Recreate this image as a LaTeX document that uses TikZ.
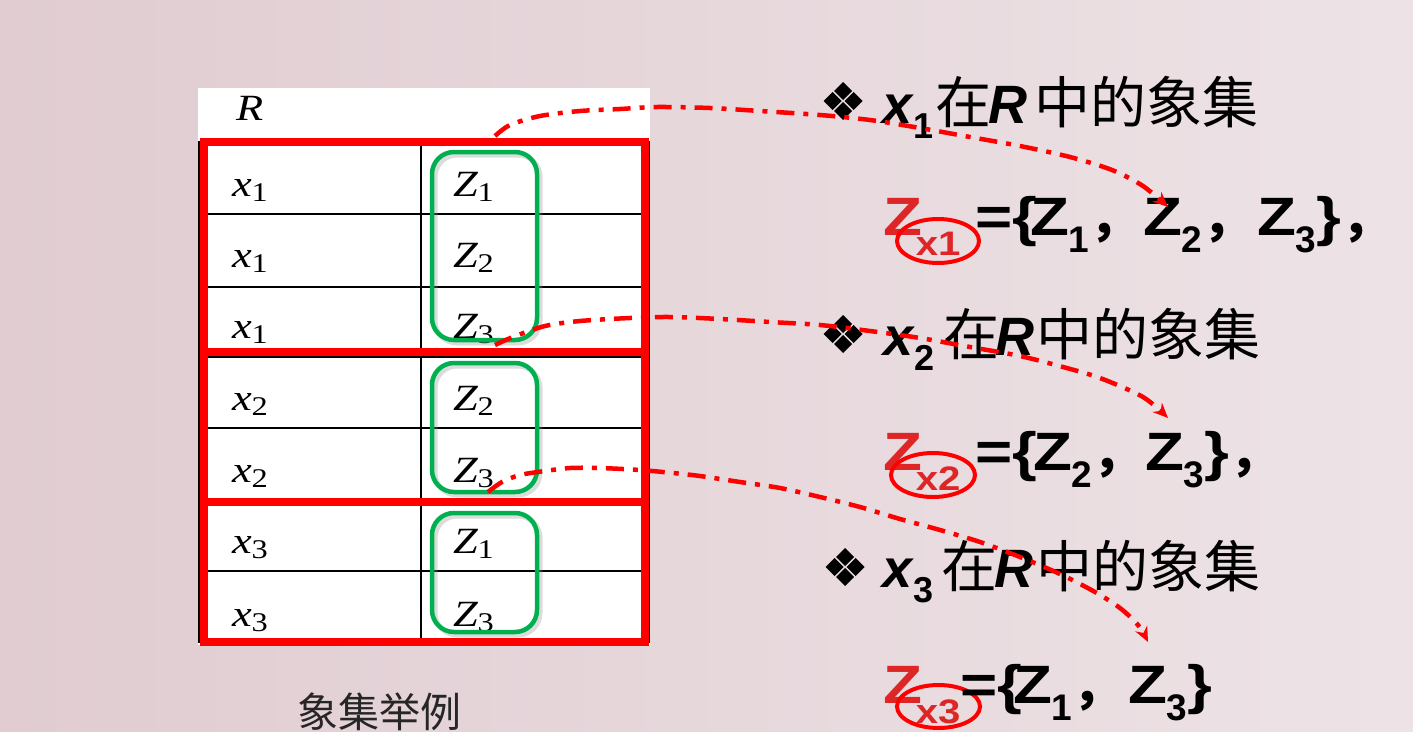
\documentclass[tikz,border=0pt]{standalone}
\usepackage{fontspec}
\setmainfont{Liberation Serif}
\newfontfamily\tabf[FakeStretch=1.2]{Liberation Serif}
\newfontfamily\bsf[FakeStretch=1.18]{Liberation Sans}
\newfontfamily\hsf{Liberation Sans}
\newfontfamily\cjk{Noto Sans CJK SC}
\usetikzlibrary{arrows.meta}
\definecolor{bgL}{RGB}{224,204,209}
\definecolor{bgR}{RGB}{237,227,230}
\definecolor{tred}{RGB}{255,0,0}
\definecolor{zred}{RGB}{222,38,38}
\definecolor{gbox}{RGB}{0,176,80}
\newcommand\BigF{\fontsize{54}{60}\selectfont}
\newcommand\SubF{\fontsize{37}{40}\selectfont}
\newcommand\RSubF{\fontsize{34}{40}\selectfont}
\newcommand\CjF{\fontsize{56}{60}\selectfont}
\newcommand\TabF{\fontsize{37}{40}\selectfont}
\newcommand\TabSubF{\fontsize{27}{30}\selectfont}
\newcommand\xs[1]{{\itshape x}\raisebox{-5pt}{\TabSubF #1}}
\newcommand\zs[1]{{\itshape Z}\raisebox{-5pt}{\TabSubF #1}}
\newcommand\bz[1]{Z\raisebox{-17pt}{\hsf\bfseries\SubF #1}}
\newcommand\cm{{\cjk\fontsize{50}{54}\selectfont ，}}
\newcommand\rz[1]{Z\hspace{-6pt}\raisebox{-20pt}{\RSubF #1}}
% header line: #1 subscript, #2 gap before 在, #3 gap before R, #4 gap before 中
\newcommand\hdr[4]{{\hsf\bfseries\itshape\BigF x}\hspace{1.5pt}\raisebox{-15pt}{\hsf\bfseries\fontsize{36}{40}\selectfont #1}\hspace{#2}{\cjk\CjF 在}\hspace{#3}{\hsf\bfseries\itshape\BigF R}\hspace{#4}{\cjk\CjF 中的象集}}
\begin{document}
\begin{tikzpicture}[x=1pt,y=-1pt,
  txt/.style={inner sep=0pt, outer sep=0pt, anchor=base west},
  cell/.style={txt, font=\tabf\TabF},
  redline/.style={draw=tred, line width=8pt},
  gridline/.style={draw=black, line width=1.6pt},
  zgroup/.style={draw=gbox, line width=4.5pt, rounded corners=22pt},
  zshadow/.style={draw=black!45, line width=5pt, rounded corners=22pt, opacity=0.3},
  link/.style={draw=tred, line width=4.5pt, dash pattern=on 18pt off 9pt on 5pt off 9pt, -{Stealth[length=15pt,width=13pt]}},
  ring/.style={draw=tred, line width=4pt},
  big/.style={txt, font=\bsf\bfseries\BigF},
  bul/.pic={\foreach \dx/\dy in {0/-10, -10.5/0, 10.5/0, 0/10}{
      \fill (\dx,\dy) +(-9,0) -- +(0,-9) -- +(9,0) -- +(0,9) -- cycle;}},
]
% background
\shade[left color=bgL, right color=bgR] (0,0) rectangle (1413,731);
\useasboundingbox (0,0) rectangle (1413,731);

% table
\fill[white] (198,88) rectangle (650,645);
\draw[gridline] (199,142) rectangle (649,642);
\foreach \yy in {214,287,357,428,502,571} \draw[gridline] (199,\yy) -- (649,\yy);
\draw[gridline] (421,142) -- (421,642);

\node[cell] (R) at (236,120) {\itshape R};
\node[cell] (a1) at (232,196) {\xs1};
\node[cell] (a2) at (232,267) {\xs1};
\node[cell] (a3) at (232,338) {\xs1};
\node[cell] (a4) at (232,410) {\xs2};
\node[cell] (a5) at (232,482) {\xs2};
\node[cell] (a6) at (232,553) {\xs3};
\node[cell] (a7) at (232,626) {\xs3};
\node[cell] (b1) at (453,196) {\zs1};
\node[cell] (b2) at (453,267) {\zs2};
\node[cell] (b3) at (453,338) {\zs3};
\node[cell] (b4) at (453,410) {\zs2};
\node[cell] (b5) at (453,482) {\zs3};
\node[cell] (b6) at (453,553) {\zs1};
\node[cell] (b7) at (453,626) {\zs3};

% green groups
\draw[zshadow] (435,155) rectangle (540,343);
\draw[zshadow] (435,366) rectangle (540,495);
\draw[zshadow] (435,516) rectangle (540,635);
\draw[zgroup] (432,152) rectangle (537,340);
\draw[zgroup] (432,363) rectangle (537,492);
\draw[zgroup] (432,513) rectangle (537,632);

% red groups
\draw[redline] (203.5,142) rectangle (644.5,642);
\draw[redline] (203.5,352) -- (644.5,352);
\draw[redline] (203.5,502) -- (644.5,502);

% caption
\node[txt, font=\cjk\fontsize{41}{45}\selectfont, text=black!85] (cap) at (297,727) {象集举例};

% header lines
\pic at (843,101) {bul};
\node[txt] (h1) at (882,123) {\hdr{1}{1.5pt}{-3pt}{7pt}};
\pic at (843,334) {bul};
\node[txt] (h2) at (883,355) {\hdr{2}{8.5pt}{-4pt}{2pt}};
\pic at (845,567) {bul};
\node[txt] (h3) at (882,587) {\hdr{3}{7.5pt}{-3pt}{3pt}};

% Z lines
\node[big, text=zred] (z1) at (883,235) {\rz{x1}};
\draw[ring] (938,241) ellipse [x radius=41, y radius=22];
\node[big] (e1) at (975,235) {=\{};
\node[big] (e1a) at (1030,235) {\bz1\cm};
\node[big] (e1b) at (1143,235) {\bz2\cm};
\node[big] (e1c) at (1257,235) {\bz3\}\cm};

\node[big, text=zred] (z2) at (883,470) {\rz{x2}};
\draw[ring] (933,475) ellipse [x radius=42, y radius=22];
\node[big] (e2) at (975,470) {=\{};
\node[big] (e2a) at (1033,470) {\bz2\cm};
\node[big] (e2b) at (1145,470) {\bz3\}\cm};

\node[big, text=zred] (z3) at (883,703) {\rz{x3}};
\draw[ring] (938.5,706.5) ellipse [x radius=41.5, y radius=21.5];
\node[big] (e3) at (960,703) {=\{};
\node[big] (e3a) at (1013,703) {\bz1\cm};
\node[big] (e3b) at (1128,703) {\bz3\}};

% connectors
\coordinate (s1) at (495,136);
\coordinate (t1) at (1168,207);
\coordinate (s2) at (495,345);
\coordinate (t2) at (1168,418);
\coordinate (s3) at (488,492);
\coordinate (t3) at (1148,642);
\draw[link] plot[smooth, tension=0.5] coordinates {(s1) (510,125) (540,116) (580,111) (620,109) (657,107) (710,108) (760,111) (820,115) (870,120) (920,128) (970,137) (1020,146) (1070,157) (1112,170) (1143,186) (t1)};
\draw[link] plot[smooth, tension=0.5] coordinates {(s2) (513,337) (545,326) (580,321) (630,318) (670,317) (720,319) (770,322) (820,325) (870,331) (920,338) (970,347) (1020,356) (1063,367) (1100,378) (1143,397) (t2)};
\draw[link] plot[smooth, tension=0.5] coordinates {(s3) (502,482) (520,475) (545,471) (570,468) (600,468) (640,470) (673,473) (700,476) (740,482) (780,488) (820,497) (860,507) (900,519) (940,530) (980,542) (1020,557) (1060,574) (1095,592) (1120,608) (1138,625) (t3)};
\end{tikzpicture}
\end{document}
